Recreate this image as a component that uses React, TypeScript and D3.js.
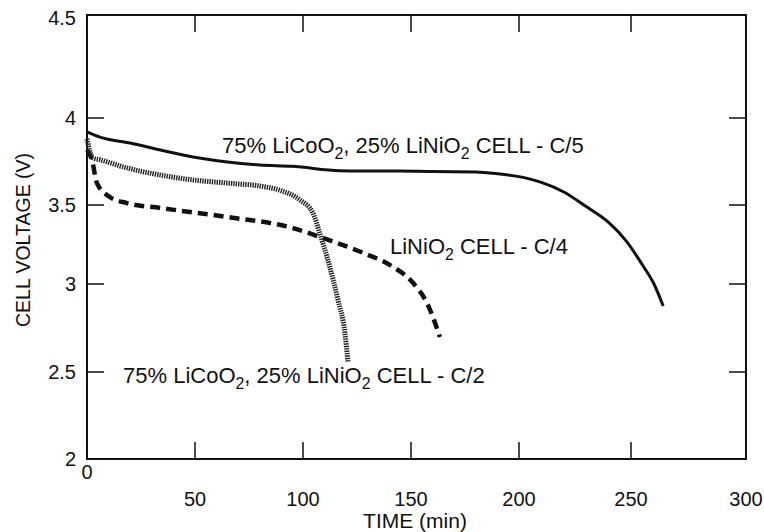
import React from "react";
import * as d3 from "d3";

// Discharge curves: time (min) vs cell voltage (V)
const timeC5 = [0, 6, 20, 34, 52, 65, 80, 95, 117, 126, 145, 160, 180, 190, 200, 210, 220, 230, 240, 248, 255, 260, 264];
const voltC5 = [3.92, 3.89, 3.856, 3.816, 3.77, 3.747, 3.73, 3.722, 3.697, 3.695, 3.695, 3.692, 3.69, 3.68, 3.663, 3.63, 3.575, 3.49, 3.39, 3.27, 3.12, 3.0, 2.875];

const timeC2 = [0, 2.8, 6, 18.5, 34, 49, 65, 80, 89, 98.6, 104.6, 108, 111, 114, 116.2, 119.4, 120.8];
const voltC2 = [3.88, 3.77, 3.76, 3.713, 3.672, 3.644, 3.626, 3.609, 3.586, 3.529, 3.449, 3.31, 3.177, 3.025, 2.909, 2.722, 2.557];

const timeC4 = [0, 2.3, 4.6, 10.6, 18.5, 34, 65, 95.4, 108, 128, 140.3, 151, 157.4, 163.4];
const voltC4 = [3.816, 3.759, 3.626, 3.546, 3.511, 3.481, 3.424, 3.354, 3.297, 3.196, 3.12, 3.006, 2.892, 2.699];

const xTicks = [0, 50, 100, 150, 200, 250, 300];
const yTicks = [2, 2.5, 3, 3.5, 4, 4.5];

const FONT = "'Liberation Sans', Arial, Helvetica, sans-serif";

export default function App() {
  // axis calibration at each labelled tick
  const x = d3.scaleLinear().domain(xTicks).range([87, 195, 303, 411, 519, 631, 746]);
  const y = d3.scaleLinear().domain(yTicks).range([459, 372, 284, 205, 118, 15]);

  const line = d3
    .line<[number, number]>()
    .x((d) => x(d[0]))
    .y((d) => y(d[1]))
    .curve(d3.curveMonotoneX);

  const pts = (t: number[], v: number[]) => t.map((ti, i) => [ti, v[i]] as [number, number]);

  const x0 = x(0), x1 = x(300), yb = y(2), yt = y(4.5);
  const tick = 17;

  // chemical formula with lowered subscript
  const formula = (base: string, idx: string, rest: string, size: number) => [
    <tspan key="b">{base}</tspan>,
    <tspan key="s" fontSize={size * 0.72} dy={size * 0.28}>{idx}</tspan>,
    <tspan key="r" dy={-size * 0.28}>{rest}</tspan>,
  ];

  const mixLabel = (rate: string, size: number) => (
    <>
      {formula("75% LiCoO", "2", ", 25% ", size)}
      {formula("LiNiO", "2", " CELL - " + rate, size)}
    </>
  );

  return (
    <svg width={764} height={532} style={{ position: "absolute", left: 0, top: 0, background: "#fff" }} fontFamily={FONT}>
      <rect width={764} height={532} fill="#fff" />
      {/* frame */}
      <rect x={x0} y={yt} width={x1 - x0} height={yb - yt} fill="none" stroke="#111" strokeWidth={2} />
      {/* inward ticks */}
      {xTicks.slice(1, -1).map((t) => (
        <g key={"xt" + t} stroke="#111" strokeWidth={1.5}>
          <line x1={x(t)} x2={x(t)} y1={yb} y2={yb - tick} />
          <line x1={x(t)} x2={x(t)} y1={yt} y2={yt + tick} />
        </g>
      ))}
      {yTicks.slice(1, -1).map((v) => (
        <g key={"yt" + v} stroke="#111" strokeWidth={1.5}>
          <line x1={x0} x2={x0 + tick} y1={y(v)} y2={y(v)} />
          <line x1={x1} x2={x1 - tick} y1={y(v)} y2={y(v)} />
        </g>
      ))}
      {/* tick labels */}
      {xTicks.map((t) => (
        <text key={"xl" + t} x={x(t)} y={t === 0 ? 479 : 506} textAnchor="middle" fontSize={20} fill="#111">
          {t}
        </text>
      ))}
      {yTicks.map((v) => (
        <text key={"yl" + v} x={76} y={v === 4.5 ? 25 : y(v) + 7} textAnchor="end" fontSize={20} fill="#111">
          {v}
        </text>
      ))}
      {/* axis titles */}
      <text x={415} y={528} textAnchor="middle" fontSize={21} fill="#111">TIME (min)</text>
      <text transform="translate(30,240) rotate(-90)" textAnchor="middle" fontSize={19.5} fill="#111">
        CELL VOLTAGE (V)
      </text>

      {/* curves */}
      <path d={line(pts(timeC4, voltC4)) || ""} fill="none" stroke="#111" strokeWidth={4.5} strokeDasharray="10,6" />
      <path d={line(pts(timeC2, voltC2)) || ""} fill="none" stroke="#222" strokeWidth={5} strokeDasharray="1.4,1" />
      <path d={line(pts(timeC5, voltC5)) || ""} fill="none" stroke="#111" strokeWidth={3} />

      {/* curve labels */}
      <text x={222} y={153} fontSize={22} fill="#111">{mixLabel("C/5", 22)}</text>
      <text x={390} y={254} fontSize={22} fill="#111">
        {formula("LiNiO", "2", " CELL - C/4", 22)}
      </text>
      <text x={123} y={383} fontSize={22} fill="#111">{mixLabel("C/2", 22)}</text>
    </svg>
  );
}
